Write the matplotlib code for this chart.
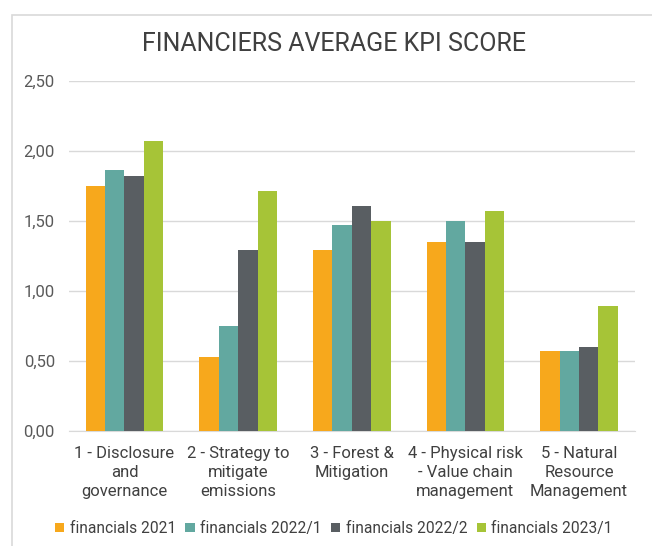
import matplotlib.pyplot as plt
import numpy as np
from matplotlib.patches import Rectangle
from matplotlib.ticker import FuncFormatter

plt.rcParams['font.family'] = ['Roboto', 'DejaVu Sans']

categories = [
    "1 - Disclosure\nand\ngovernance",
    "2 - Strategy to\nmitigate\nemissions",
    "3 - Forest &\nMitigation",
    "4 - Physical risk\n- Value chain\nmanagement",
    "5 - Natural\nResource\nManagement",
]
series_names = ["financials 2021", "financials 2022/1", "financials 2022/2", "financials 2023/1"]
fin_2021 = [1.75, 0.53, 1.29, 1.35, 0.57]
fin_2022_1 = [1.86, 0.75, 1.47, 1.50, 0.57]
fin_2022_2 = [1.82, 1.29, 1.61, 1.35, 0.60]
fin_2023_1 = [2.07, 1.71, 1.50, 1.57, 0.89]
colors = ["#F7A81C", "#62A8A0", "#595E62", "#A6C437"]

fig = plt.figure(figsize=(6.52, 5.46), dpi=100)
ax = fig.add_axes([0.1055, 0.2105, 0.868, 0.6415])

# light frame around the chart area
fig.patches.append(Rectangle((0.018, -0.05), 1.05, 1.022, transform=fig.transFigure,
                             fill=False, edgecolor="#D9D9D9", linewidth=1.2))

x = np.arange(len(categories))
width = 0.171
all_series = [fin_2021, fin_2022_1, fin_2022_2, fin_2023_1]
for i, (vals, name, c) in enumerate(zip(all_series, series_names, colors)):
    ax.bar(x + (i - 1.5) * width, vals, width, color=c, label=name, zorder=3)

ax.set_ylim(0, 2.5)
ax.set_yticks(np.arange(0, 2.51, 0.5))
ax.yaxis.set_major_formatter(FuncFormatter(lambda v, p: f"{v:.2f}".replace(".", ",")))
ax.set_xlim(-0.49, 4.49)
ax.set_xticks(x)
ax.set_xticklabels(categories, fontsize=12, color="#404040", linespacing=1.33)
ax.tick_params(axis="y", labelsize=12, labelcolor="#595959", length=0, pad=10)
ax.tick_params(axis="x", length=0, pad=11)
ax.grid(axis="y", color="#D9D9D9", linewidth=1, zorder=0)
for s in ["top", "right", "left"]:
    ax.spines[s].set_visible(False)
ax.spines["bottom"].set_color("#D9D9D9")

fig.text(0.512, 0.92, "FINANCIERS AVERAGE KPI SCORE", ha="center", va="center",
         fontsize=18, color="#404040")

fig.legend(loc="center", bbox_to_anchor=(0.512, 0.032), ncol=4, frameon=False,
           fontsize=11.2, handlelength=0.6, handleheight=0.6, handletextpad=0.35,
           columnspacing=0.6, labelcolor="#404040")

fig.savefig("out.png", dpi=100)
